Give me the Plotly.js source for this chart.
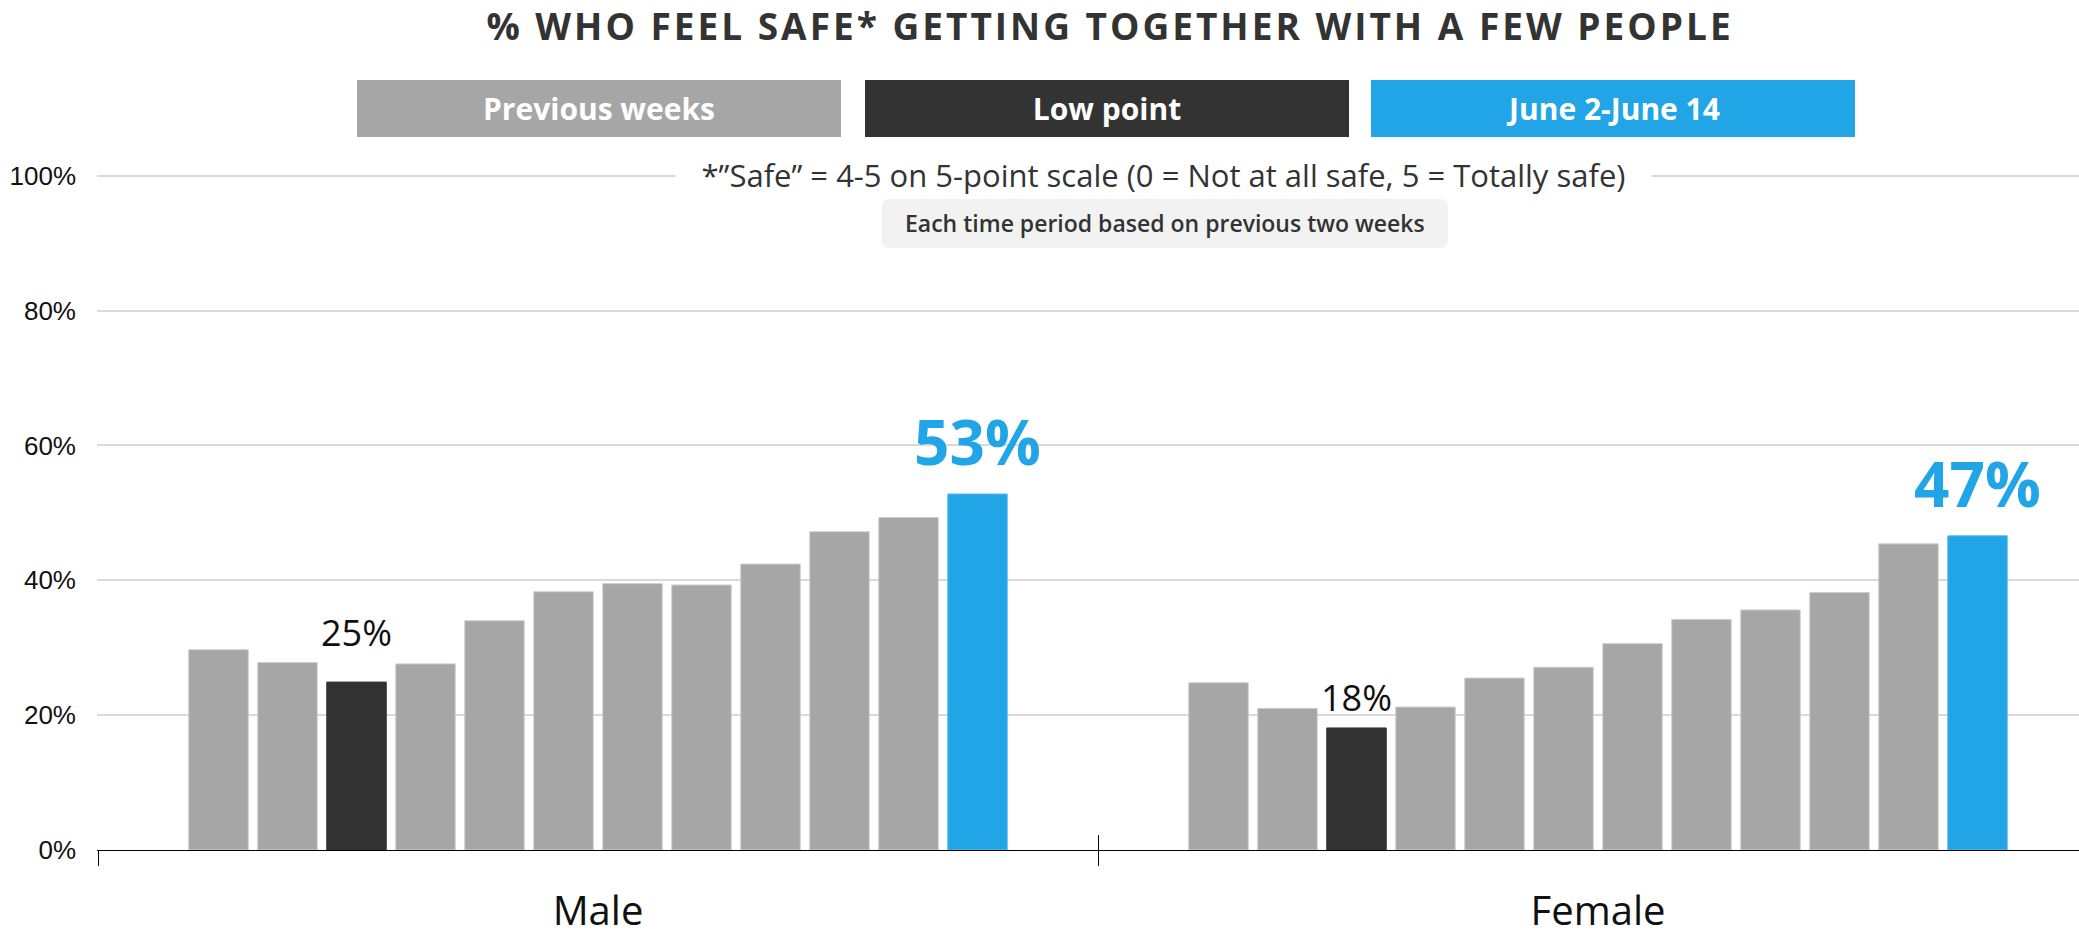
<!DOCTYPE html>
<html>
<head>
<meta charset="utf-8">
<script src="https://cdn.plot.ly/plotly-3.0.1.min.js"></script>
<style>
  html, body { margin: 0; padding: 0; background: #fff; }
  #chart { width: 2079px; height: 931px; }
  .gtitle { letter-spacing: 3px; }
</style>
</head>
<body>
<div id="chart"></div>
<script>
// ---------------- DATA ----------------
const categories = ['Male', 'Female'];
// 12 two-week periods, oldest -> newest (last = June 2-June 14)
const maleValues   = [29.7, 27.8, 24.9, 27.6, 34.0, 38.3, 39.5, 39.3, 42.4, 47.2, 49.3, 52.8];
const femaleValues = [24.8, 21.0, 18.1, 21.2, 25.5, 27.1, 30.6, 34.2, 35.6, 38.2, 45.4, 46.6];
const periodRoles  = ['prev', 'prev', 'low', 'prev', 'prev', 'prev', 'prev', 'prev', 'prev', 'prev', 'prev', 'current'];
const yTickValues  = [0, 20, 40, 60, 80, 100];
const yTickLabels  = ['0%', '20%', '40%', '60%', '80%', '100%'];
const legendLabels = ['Previous weeks', 'Low point', 'June 2-June 14'];
const chartTitle   = '% WHO FEEL SAFE* GETTING TOGETHER WITH A FEW PEOPLE';
const noteText     = '*”Safe” = 4-5 on 5-point scale (0 = Not at all safe, 5 = Totally safe)';
const boxText      = 'Each time period based on previous two weeks';

// ---------------- STYLE ----------------
const W = 2079, H = 931, L = 97, R = 0, T = 142, B = 81;
const plotW = W - L - R, plotH = H - T - B;
const catPx = 1000;                 // pixels per category
const bargap = 0.172, bargroupgap = 0.138;
const roleColor = { prev: '#a6a6a6', low: '#333333', current: '#21a5e6' };
const roleLine  = { prev: '#cdcdcd', low: '#333333', current: '#5cbcef' };
const px2x = px => (px - L) / plotW;
const py2y = py => (H - B - py) / plotH;

const n = maleValues.length;
const slotPx = catPx * (1 - bargap) / n;

// ---------------- TRACES ----------------
const traces = [];
for (let i = 0; i < n; i++) {
  const role = periodRoles[i];
  traces.push({
    type: 'bar',
    x: categories,
    y: [maleValues[i], femaleValues[i]],
    marker: { color: roleColor[role], line: { color: roleLine[role], width: 1 } },
    hoverinfo: 'skip',
    showlegend: false
  });
}
// helper trace for upward half of the boundary ticks
traces.push({
  type: 'bar', x: categories, y: [0, 0], xaxis: 'x2',
  marker: { color: 'rgba(0,0,0,0)' }, hoverinfo: 'skip', showlegend: false
});

// ---------------- ANNOTATIONS ----------------
const annotations = [];
const lowShift = [50, 30];
const seriesByCat = [maleValues, femaleValues];
categories.forEach((cat, c) => {
  periodRoles.forEach((role, i) => {
    if (role === 'prev') return;
    const v = seriesByCat[c][i];
    const isCur = role === 'current';
    annotations.push({
      xref: 'x', yref: 'y', x: cat, y: v,
      xshift: (i - (n - 1) / 2) * slotPx,
      yshift: isCur ? 53 : lowShift[c],
      yanchor: 'middle', xanchor: 'center',
      text: Math.round(v) + '%', showarrow: false,
      font: isCur
        ? { family: 'Open Sans', size: 62, color: roleColor.current, weight: 700 }
        : { family: 'Open Sans', size: 36, color: '#111' }
    });
  });
});

// legend boxes
const legendCenters = [599, 1106.5, 1613];
const legendRoles = ['prev', 'low', 'current'];
legendLabels.forEach((lab, k) => {
  annotations.push({
    xref: 'paper', yref: 'paper', x: px2x(legendCenters[k]), y: py2y(108.5),
    xanchor: 'center', yanchor: 'middle',
    width: 484, height: 57, borderpad: 0, borderwidth: 0,
    bgcolor: roleColor[legendRoles[k]],
    text: '<b>' + lab + '</b>', showarrow: false,
    font: { family: 'Open Sans', size: 30, color: '#ffffff' }
  });
});

// note on the 100% gridline
annotations.push({
  xref: 'paper', yref: 'paper', x: px2x(1163.5), y: py2y(175),
  xanchor: 'center', yanchor: 'middle',
  width: 975, height: 44, borderpad: 0, bgcolor: '#ffffff',
  text: noteText, showarrow: false,
  font: { family: 'Open Sans', size: 31, color: '#333333' }
});
// grey info box text
annotations.push({
  xref: 'paper', yref: 'paper', x: px2x(1165), y: py2y(223.5),
  xanchor: 'center', yanchor: 'middle',
  text: boxText, showarrow: false,
  font: { family: 'Open Sans', size: 23, color: '#333333', weight: 600 }
});

// rounded rect for info box
function roundRect(x0, y0, x1, y1, r) {
  const X = px => px2x(px), Y = py => py2y(py);
  return `M ${X(x0 + r)} ${Y(y0)} L ${X(x1 - r)} ${Y(y0)} Q ${X(x1)} ${Y(y0)} ${X(x1)} ${Y(y0 + r)} ` +
         `L ${X(x1)} ${Y(y1 - r)} Q ${X(x1)} ${Y(y1)} ${X(x1 - r)} ${Y(y1)} ` +
         `L ${X(x0 + r)} ${Y(y1)} Q ${X(x0)} ${Y(y1)} ${X(x0)} ${Y(y1 - r)} ` +
         `L ${X(x0)} ${Y(y0 + r)} Q ${X(x0)} ${Y(y0)} ${X(x0 + r)} ${Y(y0)} Z`;
}
const shapes = [{
  type: 'path', xref: 'paper', yref: 'paper', layer: 'above',
  path: roundRect(882, 199, 1448, 248, 8),
  fillcolor: '#f2f2f2', line: { width: 0 }
}];

const xStart = -0.5 - 1 / catPx;
const xRange = [xStart, xStart + plotW / catPx];

const layout = {
  width: W, height: H,
  margin: { l: L, r: R, t: T, b: B, pad: 0 },
  paper_bgcolor: '#ffffff', plot_bgcolor: '#ffffff',
  barmode: 'group', bargap: bargap, bargroupgap: bargroupgap,
  title: {
    text: '<b>' + chartTitle + '</b>',
    xref: 'container', yref: 'container',
    x: 1110 / W, y: 1 - 27 / H, xanchor: 'center', yanchor: 'middle',
    font: { family: 'Open Sans', size: 37, color: '#333333' }
  },
  xaxis: {
    type: 'category', categoryorder: 'array', categoryarray: categories,
    range: xRange, fixedrange: true,
    tickson: 'boundaries', ticks: 'outside', ticklen: 15, tickwidth: 1, tickcolor: '#000',
    showline: true, linecolor: '#000', linewidth: 1,
    showgrid: false, zeroline: false,
    ticklabelstandoff: 26,
    tickfont: { family: 'Open Sans', size: 40, color: '#111' }
  },
  xaxis2: {
    type: 'category', categoryorder: 'array', categoryarray: categories,
    overlaying: 'x', anchor: 'y', range: xRange, fixedrange: true,
    tickson: 'boundaries', ticks: 'inside', ticklen: 15, tickwidth: 1, tickcolor: '#000',
    showticklabels: false, showgrid: false, showline: false, zeroline: false
  },
  yaxis: {
    range: [0, 105], fixedrange: true,
    tickmode: 'array', tickvals: yTickValues, ticktext: yTickLabels,
    showgrid: true, gridcolor: '#d9d9d9', gridwidth: 2,
    zeroline: false, showline: false, ticks: '',
    ticklabelstandoff: 20,
    tickfont: { family: 'Liberation Sans, Arial, sans-serif', size: 26, color: '#111' }
  },
  annotations: annotations,
  shapes: shapes,
  showlegend: false
};

Plotly.newPlot('chart', traces, layout, { displayModeBar: false, staticPlot: true });
</script>
</body>
</html>
